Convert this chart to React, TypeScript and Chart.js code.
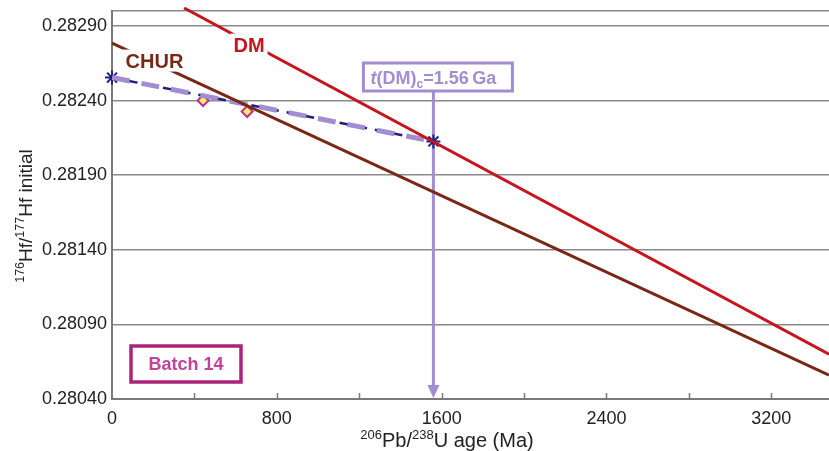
import React, { useEffect, useRef } from 'react';
import { Chart, registerables } from 'chart.js';

Chart.register(...registerables);

const FONT = "'Liberation Sans', Arial, Helvetica, sans-serif";

// Reference evolution lines: age (Ma) vs 176Hf/177Hf
const dmAges = [350, 3480];
const dmHf = [0.28302, 0.2807];
const churAges = [0, 3480];
const churHf = [0.282785, 0.28056];
// Model-age trajectory (present-day -> t(DM)c)
const trajAges = [0, 1560];
const trajHf = [0.282554, 0.282126];
// Batch 14 zircon analyses
const zirconAges = [442, 656];
const zirconHf = [0.2824, 0.282326];
const tdmAge = 1560;

// Axis ticks
const xTickValues = [0, 400, 800, 1200, 1600, 2000, 2400, 2800, 3200];
const xTickLabels = ['0', '', '800', '', '1600', '', '2400', '', '3200'];
const yTickValues = [0.2804, 0.2809, 0.2814, 0.2819, 0.2824, 0.2829, 0.283];
const yTickLabels = ['0.28040', '0.28090', '0.28140', '0.28190', '0.28240', '0.28290', ''];
const X_MIN = 0;
const X_MAX = 3480;
const Y_MIN = 0.2804;
const Y_MAX = 0.283;

// Labels
const dmLabel = { text: 'DM', age: 665, hf: 0.282775 };
const churLabel = { text: 'CHUR', age: 206, hf: 0.282668 };
const batchLabel = 'Batch 14';

const RED = '#c4161c';
const BROWN = '#7a2816';
const LAV = '#a28cd2';
const NAVY = '#1f1f80';
const MAG = '#ad2379';

type Seg = { t: string; size: number; dy?: number; style?: string };

function drawRich(ctx: CanvasRenderingContext2D, segs: Seg[], cx: number, cy: number, color: string, weight: string) {
  let total = 0;
  const widths = segs.map((s) => {
    ctx.font = `${s.style || 'normal'} ${weight} ${s.size}px ${FONT}`;
    const w = ctx.measureText(s.t).width;
    total += w;
    return w;
  });
  let x = cx - total / 2;
  ctx.fillStyle = color;
  ctx.textAlign = 'left';
  ctx.textBaseline = 'alphabetic';
  segs.forEach((s, i) => {
    ctx.font = `${s.style || 'normal'} ${weight} ${s.size}px ${FONT}`;
    ctx.fillText(s.t, x, cy + (s.dy || 0));
    x += widths[i];
  });
}

const overlayPlugin = {
  id: 'overlay',
  beforeDatasetsDraw(chart: any) {
    const ctx: CanvasRenderingContext2D = chart.ctx;
    const xs = chart.scales.x;
    const area = chart.chartArea;
    const ax = xs.getPixelForValue(tdmAge);
    const top = area.top + 80;
    const tip = area.bottom;
    ctx.save();
    ctx.strokeStyle = LAV;
    ctx.lineWidth = 3;
    ctx.beginPath();
    ctx.moveTo(ax, top);
    ctx.lineTo(ax, tip - 12);
    ctx.stroke();
    ctx.fillStyle = LAV;
    ctx.beginPath();
    ctx.moveTo(ax - 6, tip - 14);
    ctx.lineTo(ax + 6, tip - 14);
    ctx.lineTo(ax, tip - 1);
    ctx.closePath();
    ctx.fill();
    ctx.restore();
  },
  afterDatasetsDraw(chart: any) {
    const ctx: CanvasRenderingContext2D = chart.ctx;
    const xs = chart.scales.x;
    const ys = chart.scales.y;
    const area = chart.chartArea;
    ctx.save();

    // inward tick marks on x axis
    ctx.strokeStyle = '#7a7a7a';
    ctx.lineWidth = 1.5;
    xTickValues.forEach((v) => {
      if (v === 0) return;
      const px = Math.round(xs.getPixelForValue(v)) + 0.5;
      ctx.beginPath();
      ctx.moveTo(px, area.bottom);
      ctx.lineTo(px, area.bottom - 6);
      ctx.stroke();
    });

    const drawLineLabel = (lbl: { text: string; age: number; hf: number }, color: string) => {
      const px = xs.getPixelForValue(lbl.age);
      const py = ys.getPixelForValue(lbl.hf);
      ctx.font = `bold 20px ${FONT}`;
      const w = ctx.measureText(lbl.text).width;
      ctx.fillStyle = '#ffffff';
      ctx.fillRect(px - w / 2 - 3, py - 11, w + 6, 22);
      ctx.fillStyle = color;
      ctx.textAlign = 'center';
      ctx.textBaseline = 'alphabetic';
      ctx.fillText(lbl.text, px, py + 7.5);
    };
    drawLineLabel(dmLabel, RED);
    drawLineLabel(churLabel, BROWN);

    // t(DM)c box
    const ax = xs.getPixelForValue(tdmAge);
    const bx0 = ax - 70;
    const bx1 = ax + 79;
    const by0 = area.top + 52;
    const by1 = area.top + 80;
    ctx.fillStyle = '#ffffff';
    ctx.fillRect(bx0, by0, bx1 - bx0, by1 - by0);
    ctx.strokeStyle = LAV;
    ctx.lineWidth = 3;
    ctx.strokeRect(bx0, by0, bx1 - bx0, by1 - by0);
    drawRich(
      ctx,
      [
        { t: 't', size: 18, style: 'italic' },
        { t: '(DM)', size: 18 },
        { t: 'c', size: 12, dy: 4 },
        { t: '=1.56\u2009Ga', size: 18 },
      ],
      ax,
      area.top + 73,
      LAV,
      'bold'
    );

    // Batch 14 box
    const cx0 = area.left + 19;
    const cy0 = area.bottom - 53;
    const cw = 110;
    const ch = 36;
    ctx.strokeStyle = MAG;
    ctx.lineWidth = 3.5;
    ctx.strokeRect(cx0, cy0, cw, ch);
    ctx.fillStyle = '#c0449a';
    ctx.font = `bold 18px ${FONT}`;
    ctx.textAlign = 'center';
    ctx.textBaseline = 'alphabetic';
    ctx.fillText(batchLabel, cx0 + cw / 2, cy0 + 24);

    ctx.restore();
  },
  afterDraw(chart: any) {
    const ctx: CanvasRenderingContext2D = chart.ctx;
    const area = chart.chartArea;
    ctx.save();
    drawRich(
      ctx,
      [
        { t: '206', size: 13, dy: -8 },
        { t: 'Pb/', size: 20 },
        { t: '238', size: 13, dy: -8 },
        { t: 'U age (Ma)', size: 20 },
      ],
      area.left + 335,
      area.bottom + 48,
      '#222222',
      'normal'
    );
    ctx.translate(32, (area.top + area.bottom) / 2 + 11);
    ctx.rotate(-Math.PI / 2);
    drawRich(
      ctx,
      [
        { t: '176', size: 12.5, dy: -8 },
        { t: 'Hf/', size: 19 },
        { t: '177', size: 12.5, dy: -8 },
        { t: 'Hf initial', size: 19 },
      ],
      0,
      0,
      '#222222',
      'normal'
    );
    ctx.restore();
  },
};

export default function App() {
  const canvasRef = useRef<HTMLCanvasElement | null>(null);

  useEffect(() => {
    const canvas = canvasRef.current;
    if (!canvas) return;
    const toPts = (xsArr: number[], ysArr: number[]) => xsArr.map((x, i) => ({ x, y: ysArr[i] }));

    const chart = new Chart(canvas, {
      type: 'scatter',
      data: {
        datasets: [
          {
            label: 'DM',
            data: toPts(dmAges, dmHf),
            showLine: true,
            borderColor: RED,
            borderWidth: 3,
            pointRadius: 0,
            clip: 4,
          } as any,
          {
            label: 'CHUR',
            data: toPts(churAges, churHf),
            showLine: true,
            borderColor: BROWN,
            borderWidth: 3,
            pointRadius: 0,
            clip: 4,
          } as any,
          {
            label: 'trajectory (light)',
            data: toPts(trajAges, trajHf),
            showLine: true,
            borderColor: LAV,
            borderWidth: 5,
            borderDash: [18, 12],
            pointRadius: 0,
          } as any,
          {
            label: 'trajectory (dark)',
            data: toPts(trajAges, trajHf),
            showLine: true,
            borderColor: NAVY,
            borderWidth: 2.5,
            borderDash: [10, 8],
            borderDashOffset: 2,
            pointRadius: 0,
          } as any,
          {
            label: 'Zircons',
            data: toPts(zirconAges, zirconHf),
            showLine: false,
            pointStyle: 'rectRot',
            pointRadius: 5.5,
            backgroundColor: '#f7f06a',
            borderColor: '#c42d86',
            borderWidth: 2,
          } as any,
          {
            label: 'Model',
            data: toPts(trajAges, trajHf),
            showLine: false,
            pointStyle: 'star',
            pointRadius: 7,
            borderColor: NAVY,
            borderWidth: 2,
            clip: 10,
          } as any,
        ],
      },
      options: {
        animation: false,
        responsive: false,
        devicePixelRatio: 1,
        layout: { autoPadding: false, padding: { top: 11, right: 0, left: 0, bottom: 0 } },
        plugins: {
          legend: { display: false },
          tooltip: { enabled: false },
        },
        scales: {
          x: {
            type: 'linear',
            min: X_MIN,
            max: X_MAX,
            afterBuildTicks: (scale: any) => {
              scale.ticks = xTickValues.map((v) => ({ value: v }));
            },
            afterFit: (scale: any) => {
              scale.height = 52;
              scale.paddingLeft = 0;
              scale.paddingRight = 0;
            },
            grid: { display: false, drawTicks: false },
            border: { display: true, color: '#7a7a7a', width: 2 },
            ticks: {
              autoSkip: false,
              maxRotation: 0,
              padding: 9,
              color: '#222222',
              font: { family: FONT, size: 18 },
              callback: (_v: any, i: number) => xTickLabels[i],
            },
          },
          y: {
            type: 'linear',
            min: Y_MIN,
            max: Y_MAX,
            afterBuildTicks: (scale: any) => {
              scale.ticks = yTickValues.map((v) => ({ value: v }));
            },
            afterFit: (scale: any) => {
              scale.width = 112;
              scale.paddingTop = 0;
              scale.paddingBottom = 0;
            },
            grid: { color: '#8a8a8a', lineWidth: 1.5, drawTicks: false },
            border: { display: true, color: '#7a7a7a', width: 2 },
            ticks: {
              autoSkip: false,
              padding: 5,
              color: '#222222',
              font: { family: FONT, size: 18 },
              callback: (_v: any, i: number) => yTickLabels[i],
            },
          },
        },
      },
      plugins: [overlayPlugin],
    } as any);

    return () => chart.destroy();
  }, []);

  return (
    <div style={{ position: 'absolute', left: 0, top: 0, width: 829, height: 451, background: '#ffffff' }}>
      <canvas ref={canvasRef} width={829} height={451} style={{ display: 'block', width: 829, height: 451 }} />
    </div>
  );
}
